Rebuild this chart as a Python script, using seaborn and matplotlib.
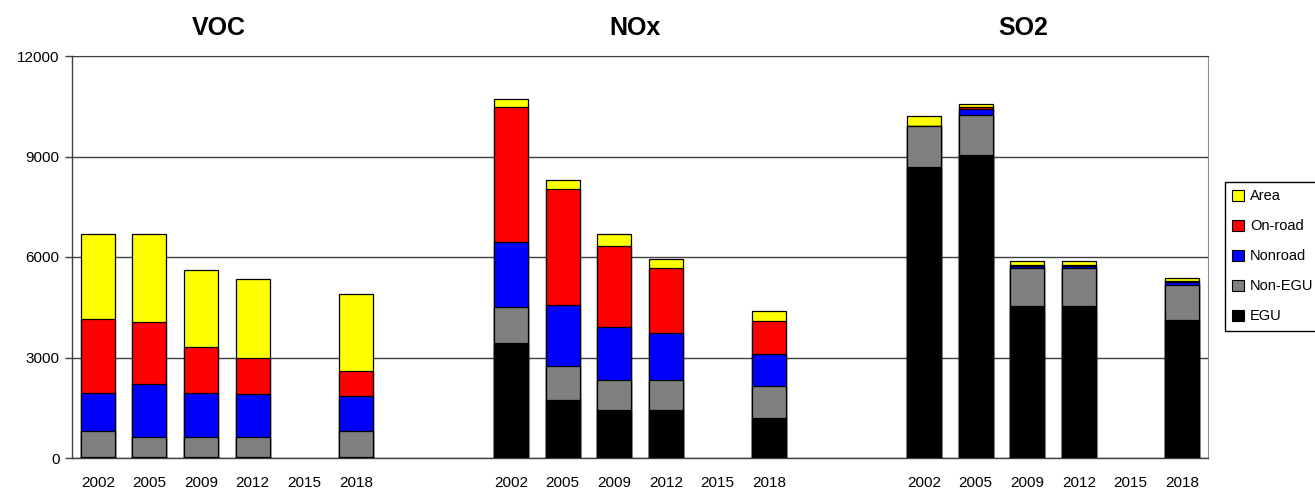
import numpy as np
import pandas as pd
import matplotlib
matplotlib.use("Agg")
import matplotlib.pyplot as plt
from matplotlib.patches import Patch
import seaborn as sns

# emissions by source, stacked per pollutant and year (2015 has no bars)
years = ["2002", "2005", "2009", "2012", "2015", "2018"]
pollutants = ["VOC", "NOx", "SO2"]
sources = ["EGU", "Non-EGU", "Nonroad", "On-road", "Area"]
nan = np.nan

voc_egu = [30, 30, 30, 30, nan, 30]
voc_nonegu = [770, 610, 610, 610, nan, 770]
voc_nonroad = [1150, 1580, 1310, 1280, nan, 1040]
voc_onroad = [2200, 1840, 1350, 1080, nan, 770]
voc_area = [2550, 2640, 2300, 2330, nan, 2300]

nox_egu = [3420, 1730, 1430, 1430, nan, 1200]
nox_nonegu = [1100, 1030, 910, 910, nan, 940]
nox_nonroad = [1920, 1810, 1570, 1380, nan, 960]
nox_onroad = [4030, 3460, 2430, 1950, nan, 1000]
nox_area = [240, 270, 340, 280, nan, 280]

so2_egu = [8690, 9040, 4540, 4540, nan, 4120]
so2_nonegu = [1210, 1200, 1120, 1120, nan, 1040]
so2_nonroad = [0, 180, 70, 70, nan, 100]
so2_onroad = [0, 60, 30, 30, nan, 20]
so2_area = [310, 100, 120, 120, nan, 80]

colors = {"Area": "#FFFF00", "On-road": "#FF0000", "Nonroad": "#0000FF",
          "Non-EGU": "#808080", "EGU": "#000000"}

data = {
    "VOC": [voc_egu, voc_nonegu, voc_nonroad, voc_onroad, voc_area],
    "NOx": [nox_egu, nox_nonegu, nox_nonroad, nox_onroad, nox_area],
    "SO2": [so2_egu, so2_nonegu, so2_nonroad, so2_onroad, so2_area],
}

# slot order: 6 years per pollutant, 2 empty slots between groups
slots = []
tick_labels = []
rows = []
for i, p in enumerate(pollutants):
    for j, y in enumerate(years):
        key = f"{p} {y}"
        slots.append(key)
        tick_labels.append(y)
        row = {"slot": key}
        for s, vals in zip(sources, data[p]):
            row[s] = vals[j]
        rows.append(row)
    if i < len(pollutants) - 1:
        for g in range(2):
            slots.append(f"gap{i}{g}")
            tick_labels.append("")

df = pd.DataFrame(rows).dropna()
cum = df[sources].cumsum(axis=1)
cum["slot"] = df["slot"]

sns.set_style("white")
plt.rcParams["font.family"] = ["Liberation Sans", "DejaVu Sans"]
plt.rcParams["text.color"] = "black"
plt.rcParams["xtick.color"] = "black"
plt.rcParams["ytick.color"] = "black"

fig = plt.figure(figsize=(13.15, 4.91), dpi=100)
ax = fig.add_axes([72 / 1315, 1 - 458 / 491, (1208 - 72) / 1315, (458 - 56) / 491])

# draw cumulative heights from the top layer down so they stack
for s in reversed(sources):
    sns.barplot(data=cum, x="slot", y=s, order=slots, color=colors[s],
                saturation=1, edgecolor="black", linewidth=0.9, width=0.66,
                errorbar=None, ax=ax, zorder=3)

ax.set_xlim(-0.5, len(slots) - 0.5)
ax.set_ylim(0, 12000)
ax.set_yticks([0, 3000, 6000, 9000, 12000])
ax.set_yticklabels(["0", "3000", "6000", "9000", "12000"], fontsize=11)
ax.set_xticks(range(len(slots)))
ax.set_xticklabels(tick_labels, fontsize=11)
ax.set_xticks(np.arange(-0.5, len(slots), 1), minor=True)
ax.tick_params(axis="x", which="major", length=0, pad=13, labelcolor="black")
ax.tick_params(axis="x", which="minor", length=5, width=1, color="#404040", direction="out")
ax.tick_params(axis="y", length=5, width=1, color="#404040", direction="out", pad=4,
               left=True, labelcolor="black")
ax.set_xlabel("")
ax.set_ylabel("")

ax.yaxis.grid(True, color="#404040", linewidth=1, linestyle="-")
ax.set_axisbelow(True)
for side in ["left", "bottom"]:
    ax.spines[side].set_color("#404040")
    ax.spines[side].set_linewidth(1)
ax.spines["top"].set_color("#404040")
ax.spines["right"].set_color("#909090")
for sp in ax.spines.values():
    sp.set_visible(True)

for name, xpos in zip(pollutants, [219, 635, 1023]):
    fig.text(xpos / 1315, 1 - 28 / 491, name, ha="center", va="center",
             fontsize=18, fontweight="bold", color="black")

handles = [Patch(facecolor=colors[s], edgecolor="black", linewidth=0.8)
           for s in reversed(sources)]
leg = fig.legend(handles, list(reversed(sources)), loc="upper left",
                 bbox_to_anchor=(1225 / 1315, 1 - 182 / 491), frameon=True,
                 fancybox=False, edgecolor="black", framealpha=1, fontsize=10.5,
                 handlelength=0.8, handleheight=0.8, handletextpad=0.4,
                 labelspacing=1.1, borderpad=0.5, borderaxespad=0)
leg.get_frame().set_linewidth(1)

fig.savefig("out.png", dpi=100)
